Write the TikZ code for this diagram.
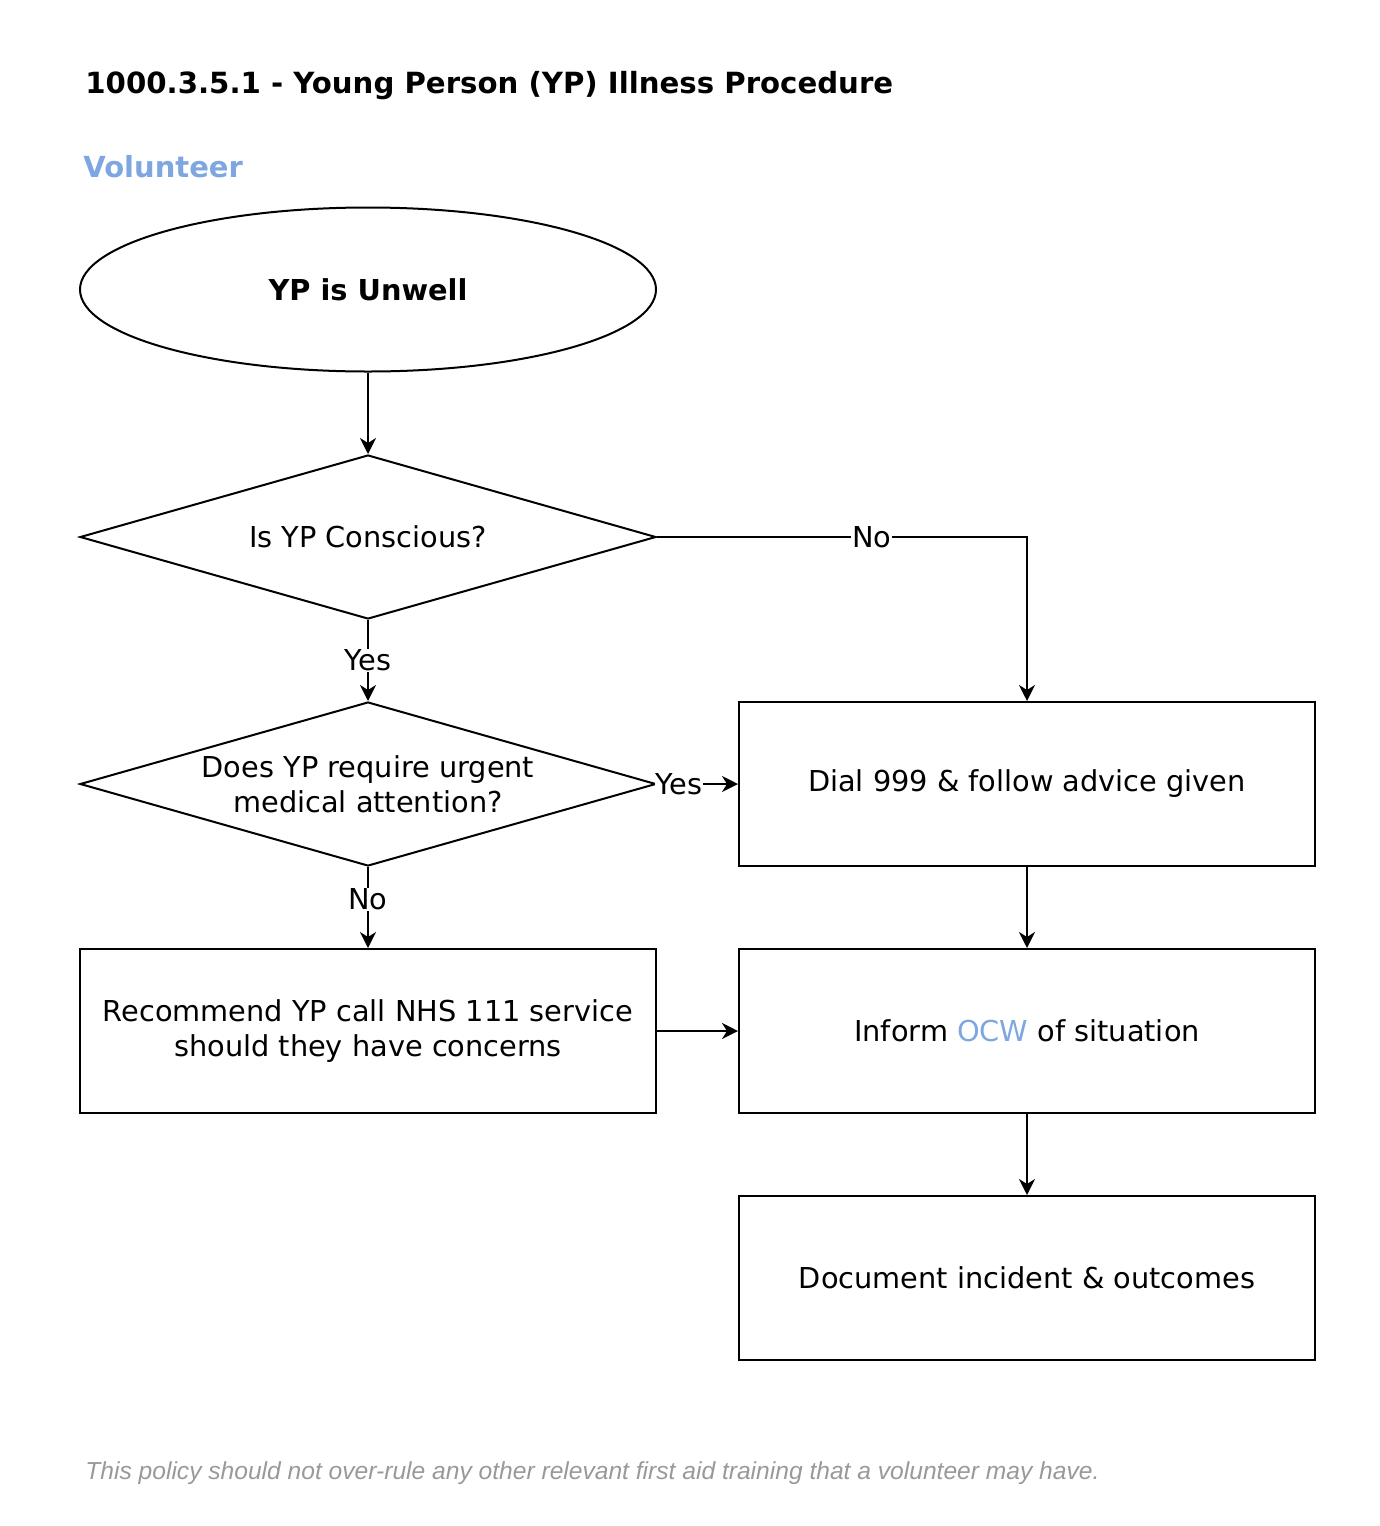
\documentclass[tikz,border=0pt]{standalone}
\usepackage{fontspec}
\setmainfont{DejaVu Sans}
\newfontfamily\notefont{Liberation Sans}
\usetikzlibrary{shapes.geometric,arrows.meta}
\definecolor{roleblue}{HTML}{7EA6E0}
\definecolor{notegray}{HTML}{999999}
\begin{document}
\begin{tikzpicture}[x=0.5pt, y=-0.5pt,
    every node/.style={font=\fontsize{14.4}{17.5}\selectfont, align=center},
    box/.style={draw, line width=1pt, minimum width=288pt, minimum height=82pt, inner sep=0pt},
    decision/.style={draw, line width=1pt, diamond, aspect=3.5, minimum width=288pt, minimum height=82pt, inner sep=0pt},
    terminal/.style={draw, line width=1pt, ellipse, minimum width=288pt, minimum height=82pt, inner sep=0pt},
    link/.style={line width=1pt, -{Stealth[length=8pt, width=8pt, inset=2.5pt]}},
    lbl/.style={fill=white, inner sep=0.5pt},
    heading/.style={anchor=base west, inner sep=0pt}]
\useasboundingbox (0,0) rectangle (1380,1526);
% headings
\node[heading, font=\fontsize{14.6}{17}\selectfont\bfseries] (title) at (85,93) {1000.3.5.1 - Young Person (YP) Illness Procedure};
\node[heading, font=\fontsize{14.5}{17}\selectfont\bfseries, text=roleblue] (role) at (83,177) {Volunteer};
% left column
\node[terminal] (unwell) at (368,289.5) {\bfseries YP is Unwell};
\node[decision] (conscious) at (368,537) {Is YP Conscious?};
\node[decision] (urgent) at (368,784) {Does YP require urgent\\medical attention?};
\node[box] (nhs) at (368,1031) {Recommend YP call NHS 111 service\\should they have concerns};
% right column
\node[box] (dial) at (1027,784) {Dial 999 \& follow advice given};
\node[box] (inform) at (1027,1031) {Inform \textcolor{roleblue}{OCW} of situation};
\node[box] (record) at (1027,1278) {Document incident \& outcomes};
% footnote
\node[heading, font=\notefont\itshape\fontsize{12.3}{14}\selectfont, text=notegray] (note) at (85,1479) {This policy should not over-rule any other relevant first aid training that a volunteer may have.};
% connectors
\draw[link] (unwell) -- (conscious);
\draw[link] (conscious.east) -| node[lbl, pos=0.29] {No} (dial.north);
\draw[link] (conscious) -- node[lbl] {Yes} (urgent);
\draw[link] (urgent.east) -- node[lbl, pos=0.27] {Yes} (dial.west);
\draw[link] (urgent) -- node[lbl, pos=0.4] {No} (nhs);
\draw[link] (nhs) -- (inform);
\draw[link] (dial) -- (inform);
\draw[link] (inform) -- (record);
\end{tikzpicture}
\end{document}
